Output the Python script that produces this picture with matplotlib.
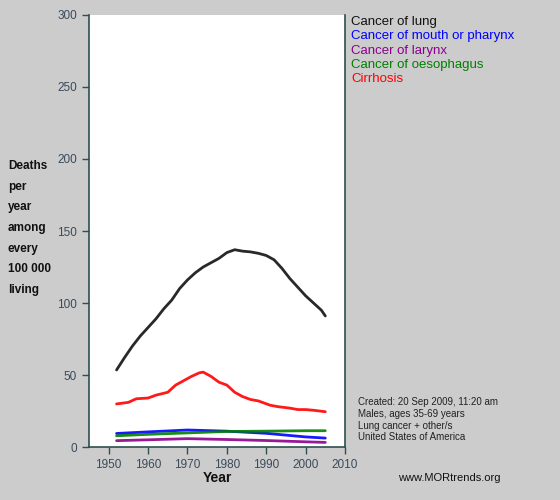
import matplotlib

matplotlib.use("Agg")
import matplotlib.pyplot as plt

plt.rcParams["font.family"] = ["Liberation Sans", "DejaVu Sans"]

# values (deaths per 100 000, males 35-69, USA)
lung_years = [1952, 1954, 1956, 1958, 1960, 1962, 1964, 1966, 1968, 1970, 1972,
              1974, 1976, 1978, 1980, 1982, 1984, 1986, 1988, 1990, 1992, 1994,
              1996, 1998, 2000, 2002, 2004, 2005]
lung = [53.5, 62, 70, 77, 83, 89, 96, 102, 110, 116, 121,
        125, 128, 131, 135, 137, 136, 135.5, 134.5, 133, 130, 124,
        117, 111, 105, 100, 95, 91]

cirr_years = [1952, 1955, 1957, 1960, 1962, 1965, 1967, 1969, 1971, 1973, 1974,
              1976, 1978, 1980, 1982, 1984, 1986, 1988, 1989, 1991, 1993, 1996,
              1998, 2000, 2002, 2005]
cirrhosis = [29.9, 31, 33.5, 34, 36, 38, 43, 46, 49, 51.5, 52,
             49, 45, 43, 38, 35, 33, 32, 31, 29, 28, 27,
             26, 26, 25.5, 24.5]

small_years = [1952, 1960, 1970, 1980, 1990, 2000, 2005]
mouth = [9.4, 10.5, 11.8, 11.0, 9.5, 7.0, 6.2]
larynx = [4.4, 5.0, 5.8, 5.2, 4.5, 3.6, 3.2]
oesoph = [7.8, 8.8, 9.8, 10.8, 11.0, 11.3, 11.3]

labels = ["Cancer of lung", "Cancer of mouth or pharynx", "Cancer of larynx",
          "Cancer of oesophagus", "Cirrhosis"]
colors = ["#111111", "#0000ff", "#8b008b", "#008000", "#ff0000"]

notes = ["Created: 20 Sep 2009, 11:20 am", "Males, ages 35-69 years",
         "Lung cancer + other/s", "United States of America"]

axis_col = "#2f4f4f"

fig = plt.figure(figsize=(5.6, 5.0), dpi=100)
fig.patch.set_facecolor("#cccccc")
ax = fig.add_axes([89 / 560, 53 / 500, 256 / 560, 432 / 500])
ax.set_facecolor("white")

series = [(lung_years, lung), (small_years, mouth), (small_years, larynx),
          (small_years, oesoph), (cirr_years, cirrhosis)]
for (xs, ys), c in zip(series, colors):
    ax.plot(xs, ys, color=c, lw=2.0, solid_capstyle="round", alpha=0.9)

ax.set_xlim(1945, 2010)
ax.set_ylim(0, 300)
ax.set_xticks(range(1950, 2011, 10))
ax.set_yticks(range(0, 301, 50))
ax.spines["top"].set_visible(False)
for s in ["left", "bottom", "right"]:
    ax.spines[s].set_color(axis_col)
    ax.spines[s].set_linewidth(1.2)
ax.tick_params(direction="out", length=5, width=1, color=axis_col,
               labelcolor="#3a4a5a", labelsize=8.5)

fig.text(217 / 560, 1 - 478 / 500, "Year", fontsize=10, fontweight="bold",
         color="#111111", va="center", ha="center")

ylab = ["Deaths", "per", "year", "among", "every", "100 000", "living"]
for i, t in enumerate(ylab):
    fig.text(8 / 560, 1 - (166 + i * 20.7) / 500, t, fontsize=8.5,
             fontweight="bold", color="#111111", va="center", ha="left")

for i, (t, c) in enumerate(zip(labels, colors)):
    fig.text(351 / 560, 1 - (22 + i * 14.3) / 500, t, fontsize=9.5,
             color=c, va="center", ha="left")

for i, t in enumerate(notes):
    fig.text(358 / 560, 1 - (402 + i * 11.8) / 500, t, fontsize=7,
             color="#222222", va="center", ha="left")

fig.text(449 / 560, 1 - 478 / 500, "www.MORtrends.org", fontsize=8,
         color="#111111", va="center", ha="center")

fig.savefig("out.png", dpi=100, facecolor=fig.get_facecolor())
